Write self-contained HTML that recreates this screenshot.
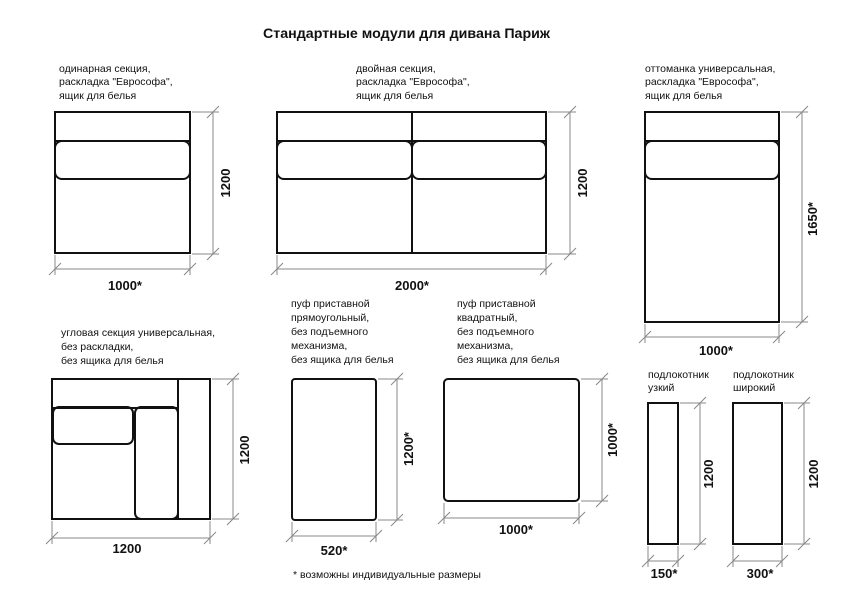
<!DOCTYPE html>
<html><head><meta charset="utf-8"><style>
html,body{margin:0;padding:0;background:#fff;}
svg{display:block}
text{font-family:"Liberation Sans","DejaVu Sans",sans-serif;fill:#111}
.t{font-size:10.5px}
.b{font-size:13px;font-weight:bold}
.r{fill:none;stroke:#111;stroke-width:2}
.d{stroke:#888;stroke-width:1;fill:none}
</style></head><body>
<svg width="849" height="600" viewBox="0 0 849 600" xmlns="http://www.w3.org/2000/svg">
<text x="263" y="38" font-size="14" font-weight="bold" textLength="287" lengthAdjust="spacingAndGlyphs">Стандартные модули для дивана Париж</text>

<g class="t">
<text x="59" y="72">одинарная секция,</text>
<text x="59" y="85">раскладка "Еврософа",</text>
<text x="59" y="99">ящик для белья</text>
<text x="356" y="72">двойная секция,</text>
<text x="356" y="85">раскладка "Еврософа",</text>
<text x="356" y="99">ящик для белья</text>
<text x="645" y="72">оттоманка универсальная,</text>
<text x="645" y="85">раскладка "Еврософа",</text>
<text x="645" y="99">ящик для белья</text>
<text x="61" y="336">угловая секция универсальная,</text>
<text x="61" y="350">без раскладки,</text>
<text x="61" y="364">без ящика для белья</text>
<text x="291" y="307">пуф приставной</text>
<text x="291" y="321">прямоугольный,</text>
<text x="291" y="335">без подъемного</text>
<text x="291" y="349">механизма,</text>
<text x="291" y="363">без ящика для белья</text>
<text x="457" y="307">пуф приставной</text>
<text x="457" y="321">квадратный,</text>
<text x="457" y="335">без подъемного</text>
<text x="457" y="349">механизма,</text>
<text x="457" y="363">без ящика для белья</text>
<text x="648" y="378">подлокотник</text>
<text x="648" y="391">узкий</text>
<text x="733" y="378">подлокотник</text>
<text x="733" y="391">широкий</text>
<text x="293" y="578">* возможны индивидуальные размеры</text>
</g>

<rect class="r" x="55" y="112" width="135" height="141"/>
<line class="r" x1="55" y1="141" x2="190" y2="141"/>
<rect class="r" x="55" y="141" width="135" height="38" rx="7"/>
<rect class="r" x="277" y="112" width="269" height="141"/>
<line class="r" x1="277" y1="141" x2="546" y2="141"/>
<line class="r" x1="412" y1="112" x2="412" y2="253"/>
<rect class="r" x="277" y="141" width="135" height="38" rx="7"/>
<rect class="r" x="412" y="141" width="134" height="38" rx="7"/>
<rect class="r" x="645" y="112" width="134" height="210"/>
<line class="r" x1="645" y1="141" x2="779" y2="141"/>
<rect class="r" x="645" y="141" width="134" height="38" rx="7"/>
<rect class="r" x="52" y="379" width="158" height="140"/>
<line class="r" x1="52" y1="408" x2="178" y2="408"/>
<line class="r" x1="178" y1="379" x2="178" y2="519"/>
<rect class="r" x="53" y="407" width="80" height="37" rx="6"/>
<rect class="r" x="135" y="407" width="43" height="112" rx="6"/>
<rect class="r" x="292" y="379" width="84" height="141" rx="3"/>
<rect class="r" x="444" y="379" width="135" height="122" rx="4"/>
<rect class="r" x="648" y="403" width="30" height="141"/>
<rect class="r" x="733" y="403" width="49" height="141"/>

<g class="d">
<path d="M192 112H219 M192 254H219 M213 112V254 M207 118L219 106 M207 260L219 248"/>
<path d="M55 255V275 M190 255V275 M55 269H190 M49 275L61 263 M184 275L196 263"/>
<path d="M548 112H576 M548 254H576 M570 112V254 M564 118L576 106 M564 260L576 248"/>
<path d="M277 255V275 M546 255V275 M277 269H546 M271 275L283 263 M540 275L552 263"/>
<path d="M781 112H808 M781 322H808 M802 112V322 M796 118L808 106 M796 328L808 316"/>
<path d="M645 324V343 M779 324V343 M645 337H779 M639 343L651 331 M773 343L785 331"/>
<path d="M212 379H239 M212 519H239 M233 379V519 M227 385L239 373 M227 525L239 513"/>
<path d="M52 521V544 M210 521V544 M52 538H210 M46 544L58 532 M204 544L216 532"/>
<path d="M378 379H403 M378 520H403 M397 379V520 M391 385L403 373 M391 526L403 514"/>
<path d="M292 522V542 M376 522V542 M292 536H376 M286 542L298 530 M370 542L382 530"/>
<path d="M581 379H608 M581 501H608 M602 379V501 M596 385L608 373 M596 507L608 495"/>
<path d="M444 503V524 M579 503V524 M444 518H579 M438 524L450 512 M573 524L585 512"/>
<path d="M680 403H706 M680 544H706 M700 403V544 M694 409L706 397 M694 550L706 538"/>
<path d="M648 546V567 M678 546V567 M648 561H678 M642 567L654 555 M672 567L684 555"/>
<path d="M784 403H810 M784 544H810 M804 403V544 M798 409L810 397 M798 550L810 538"/>
<path d="M733 546V567 M782 546V567 M733 561H782 M727 567L739 555 M776 567L788 555"/>
</g>

<g class="b" text-anchor="middle">
<text x="125" y="290">1000*</text>
<text x="412" y="290">2000*</text>
<text x="716" y="355">1000*</text>
<text x="127" y="553">1200</text>
<text x="334" y="555">520*</text>
<text x="516" y="534">1000*</text>
<text x="664" y="578">150*</text>
<text x="760" y="578">300*</text>
<text transform="translate(230,183) rotate(-90)">1200</text>
<text transform="translate(587,183) rotate(-90)">1200</text>
<text transform="translate(817,219) rotate(-90)">1650*</text>
<text transform="translate(249,450) rotate(-90)">1200</text>
<text transform="translate(413,449) rotate(-90)">1200*</text>
<text transform="translate(617,440) rotate(-90)">1000*</text>
<text transform="translate(713,474) rotate(-90)">1200</text>
<text transform="translate(818,474) rotate(-90)">1200</text>
</g>
</svg>
</body></html>
